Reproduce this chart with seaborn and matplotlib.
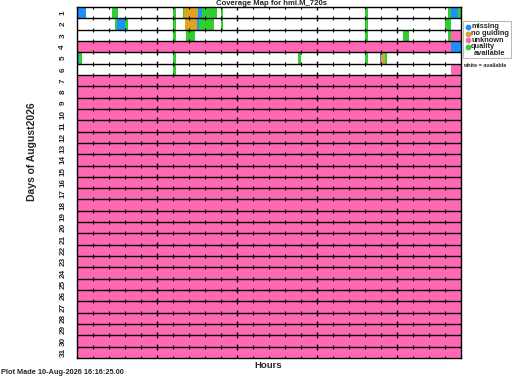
import numpy as np
import matplotlib
matplotlib.use("Agg")
import matplotlib.pyplot as plt
from matplotlib.colors import ListedColormap
from matplotlib.lines import Line2D
from matplotlib.patches import Rectangle
import seaborn as sns

# ---------------- data ----------------
days = list(range(1, 32))
status_names = ["available", "missing", "no guiding", "unknown", "quality"]
status_colors = ["#FFFFFF", "#1E90FF", "#DAA520", "#FF69B4", "#32CD32"]

# segments: day, start hour, end hour, status index
seg_day = [1, 1, 1, 1, 1, 1, 1, 1, 1, 1, 1, 1,
           2, 2, 2, 2, 2, 2, 2, 2, 2, 2,
           3, 3, 3, 3, 3, 3,
           4, 4,
           5, 5, 5, 5, 5, 5, 5, 5,
           6, 6]
seg_start = [0.0, 2.2, 6.0, 6.64, 6.7, 7.58, 7.83, 8.98, 18.0, 23.2, 23.4, 23.8,
             2.4, 2.5, 3.0, 6.0, 6.75, 7.48, 7.63, 8.98, 18.0, 23.0,
             6.0, 6.8, 18.0, 20.4, 23.2, 23.4,
             0.0, 23.4,
             0.0, 0.15, 6.0, 13.8, 18.0, 18.95, 19.04, 19.25,
             6.0, 23.4]
seg_end = [0.55, 2.56, 6.2, 6.7, 7.58, 7.83, 8.73, 9.14, 18.2, 23.4, 23.8, 24.0,
           2.5, 3.0, 3.2, 6.2, 7.48, 7.63, 8.58, 9.14, 18.2, 23.4,
           6.2, 7.38, 18.2, 20.75, 23.4, 24.0,
           23.4, 24.0,
           0.15, 0.35, 6.2, 14.0, 18.2, 19.04, 19.25, 19.4,
           6.2, 24.0]
seg_status = [1, 4, 4, 4, 2, 1, 4, 4, 4, 4, 1, 4,
              4, 1, 4, 4, 2, 1, 4, 4, 4, 4,
              4, 4, 4, 4, 4, 3,
              3, 1,
              1, 4, 4, 4, 4, 1, 2, 4,
              4, 3]
unknown_days = list(range(7, 32))

hours = list(range(0, 25))
major_hours = [5, 10, 15, 20]

# ---------------- grid ----------------
res = 60  # columns per hour
grid = np.zeros((len(days), 24 * res))
for d in unknown_days:
    grid[d - 1, :] = 3
for d, s, e, st in zip(seg_day, seg_start, seg_end, seg_status):
    grid[d - 1, int(round(s * res)):int(round(e * res))] = st

# ---------------- figure ----------------
sns.set_theme(style="white")
plt.rcParams["font.family"] = ["Liberation Sans", "DejaVu Sans"]
plt.rcParams["font.weight"] = "bold"

W, H = 512, 377
fig = plt.figure(figsize=(W / 100, H / 100), dpi=100)
fig.patch.set_facecolor("white")
x0, x1, y0, y1 = 76.7, 461.0, 7.0, 358.0
ax = fig.add_axes([x0 / W, 1 - y1 / H, (x1 - x0) / W, (y1 - y0) / H])

sns.heatmap(grid, ax=ax, cmap=ListedColormap(status_colors), vmin=-0.5, vmax=4.5,
            cbar=False, xticklabels=False, yticklabels=False)

for sp in ax.spines.values():
    sp.set_visible(True)
    sp.set_color("black")
    sp.set_linewidth(1.0)

# row boundary lines with hour ticks
for k in range(0, len(days) + 1):
    if 0 < k < len(days):
        ax.axhline(k, color="black", lw=1.0)
    minor = [h * res for h in hours[1:-1] if h not in major_hours]
    major = [h * res for h in major_hours]
    ax.plot(minor, [k] * len(minor), linestyle="none", marker="|", ms=2.8,
            mew=0.8, color="black")
    ax.plot(major, [k] * len(major), linestyle="none", marker="|", ms=5.0,
            mew=1.0, color="black")

ax.set_xlim(0, 24 * res)
ax.set_ylim(len(days), 0)
ax.set_xticks([])
ax.set_yticks(np.arange(len(days)) + 0.5)
ax.set_yticklabels([str(d) for d in days], rotation=90, va="center",
                   fontsize=5.9, fontweight="bold")
ax.tick_params(axis="y", length=0, pad=7.5)

# texts
fig.text(271 / W, 1 - 3.6 / H, "Coverage Map for hmi.M_720s", ha="center",
         va="center", fontsize=5.6, fontweight="bold")
fig.text(32 / W, 1 - 152 / H, "Days of August2026", rotation=90, ha="center",
         va="center", fontsize=7.5, fontweight="bold")
fig.text(268 / W, 1 - 366 / H, "Hours", ha="center", va="center",
         fontsize=6.8, fontweight="bold")
fig.text(1 / W, 1 - 373 / H, "Plot Made 10-Aug-2026 16:16:25.00", ha="left",
         va="center", fontsize=5.3, fontweight="bold")

# legend (manual)
fig.add_artist(Rectangle((462.7 / W, 1 - 58.0 / H), 48 / W, 36.5 / H,
                         transform=fig.transFigure, facecolor="white",
                         edgecolor="#BBBBBB", lw=0.8))
leg_y = [26.9, 33.5, 40.2, 46.9]
leg_labels = ["missing", "no guiding", "unknown", "quality"]
leg_colors = [status_colors[1], status_colors[2], status_colors[3], status_colors[4]]
for yy, lab, col in zip(leg_y, leg_labels, leg_colors):
    fig.add_artist(Line2D([468.2 / W], [1 - yy / H], marker="o", ms=3.2,
                          color=col, linestyle="none", transform=fig.transFigure))
    fig.text(471 / W, 1 - yy / H, lab, ha="left", va="center", fontsize=5.3,
             fontweight="bold")
fig.text(474 / W, 1 - 53.6 / H, "available", ha="left", va="center",
         fontsize=5.3, fontweight="bold")
fig.text(463.5 / W, 1 - 65.7 / H, "white = available", ha="left", va="center",
         fontsize=4.0, fontweight="bold")

fig.savefig("out.png", dpi=100, facecolor="white")
